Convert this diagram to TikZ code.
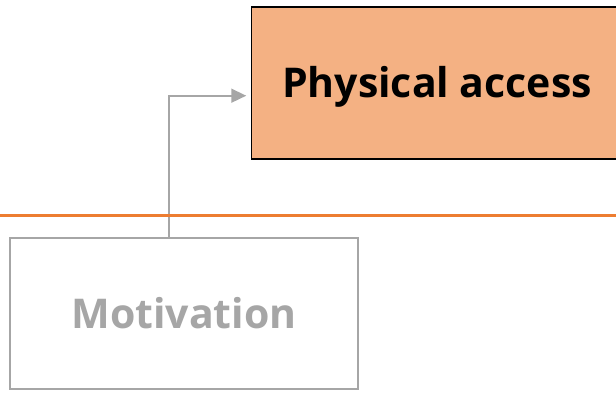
\documentclass[tikz,border=0pt]{standalone}
\usepackage{fontspec}
\setmainfont{Open Sans}
\usetikzlibrary{arrows.meta}
\definecolor{boxfill}{HTML}{F4B183}
\definecolor{lineorange}{HTML}{ED7D31}
\definecolor{dimgray}{HTML}{A6A6A6}
\begin{document}
\begin{tikzpicture}[x=1pt,y=-1pt,
  mainbox/.style={draw=black, line width=1.5pt, fill=boxfill, minimum width=371pt, minimum height=152pt,
    inner sep=0pt, font=\fontsize{41}{41}\selectfont\bfseries, text height=29.3pt, text depth=0pt},
  fadedbox/.style={draw=dimgray, line width=2pt, fill=white, minimum width=348pt, minimum height=151pt,
    inner sep=0pt, text=dimgray, font=\fontsize{41}{41}\selectfont\bfseries, text height=29.3pt, text depth=0pt},
  arr/.style={draw=dimgray, line width=1.6pt, -{Triangle[length=15pt,width=14pt]}},
  divider/.style={draw=lineorange, line width=3pt}]
\useasboundingbox (0,0) rectangle (616,392);
\clip (0,0) rectangle (616,392);
\node[mainbox] (phys) at (437,83) {Physical access};
\node[fadedbox] (mot) at (184,313.5) {Motivation};
\coordinate (bend) at (169,95.7);
\coordinate (lineL) at (-2,215);
\coordinate (lineR) at (618,215);
\draw[arr] (mot.north -| bend) |- ([xshift=-4.5pt]phys.west |- bend);
\draw[divider] (lineL) -- (lineR);
\end{tikzpicture}
\end{document}
